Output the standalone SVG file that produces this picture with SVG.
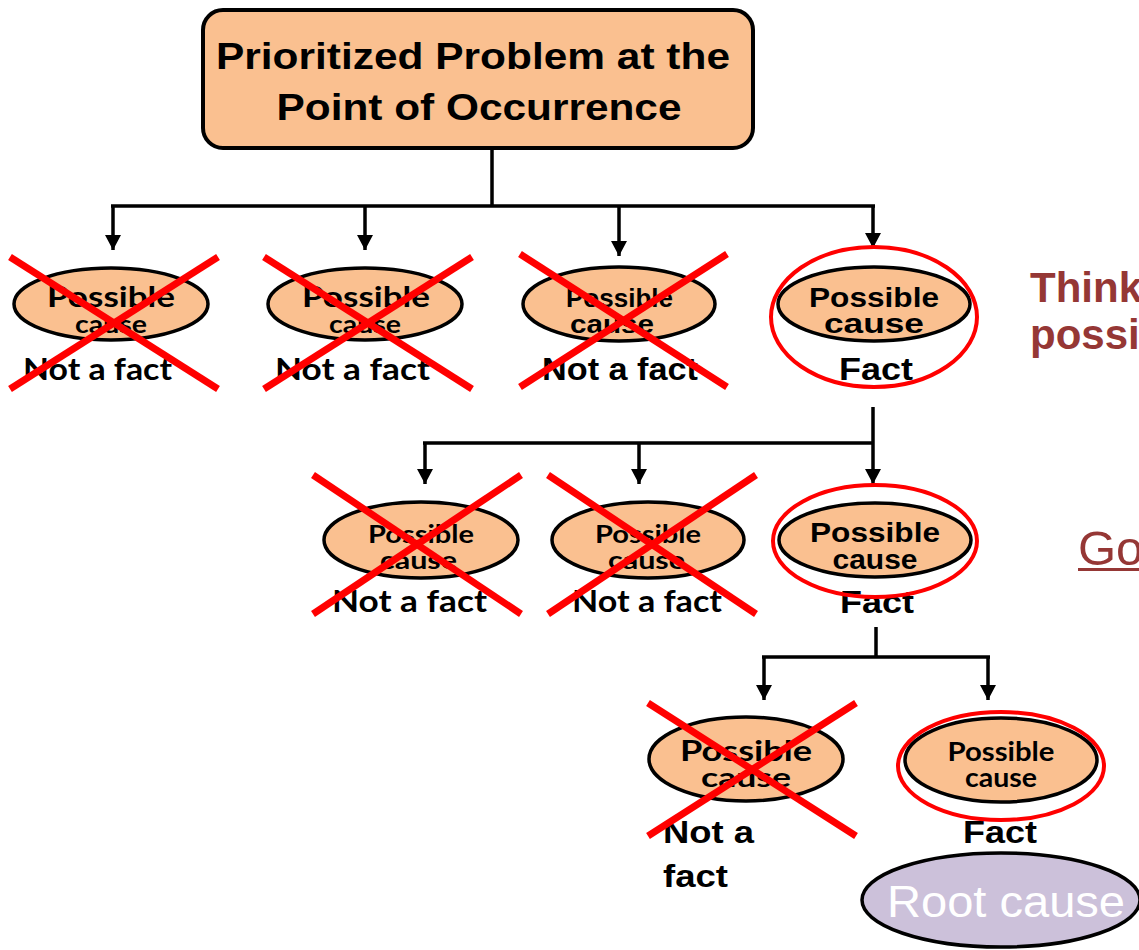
<svg xmlns="http://www.w3.org/2000/svg" width="1139" height="950" viewBox="0 0 1139 950">
  <defs>
    <marker id="arrow" markerUnits="userSpaceOnUse" markerWidth="16" markerHeight="16" refX="15" refY="8" orient="auto">
      <path d="M0,0 L15,8 L0,16 z" fill="#000"/>
    </marker>
    <style>
      .box { fill: #FAC090; stroke: #000; stroke-width: 4; }
      .cause { fill: #FAC090; stroke: #000; stroke-width: 3.5; }
      .ring { fill: none; stroke: #FF0000; stroke-width: 4; }
      .cross { stroke: #FF0000; stroke-width: 7; stroke-linecap: butt; }
      .wire { fill: none; stroke: #000; stroke-width: 3.5; }
      .arr { fill: none; stroke: #000; stroke-width: 3.5; marker-end: url(#arrow); }
      .hdr { font-family: "Liberation Sans", Arial, sans-serif; font-weight: bold; font-size: 37px; fill: #000; text-anchor: middle; }
      .cal { font-family: Lato, "Open Sans", sans-serif; font-weight: bold; fill: #000; }
      .ari { font-family: "Liberation Sans", Arial, sans-serif; font-weight: bold; fill: #000; }
      .note { font-family: "Liberation Sans", Arial, sans-serif; fill: #953735; }
    </style>
  </defs>

  <!-- connectors -->
  <g id="connectors">
    <path class="wire" d="M492,148 V206 M111,206 H875"/>
    <line class="arr" x1="113" y1="206" x2="113" y2="250"/>
    <line class="arr" x1="365" y1="206" x2="365" y2="250"/>
    <line class="arr" x1="619" y1="206" x2="619" y2="256"/>
    <line class="arr" x1="873" y1="206" x2="873" y2="248"/>

    <path class="wire" d="M873,407 V443 M423,443 H873"/>
    <line class="arr" x1="425" y1="443" x2="425" y2="484"/>
    <line class="arr" x1="639" y1="443" x2="639" y2="484"/>
    <line class="arr" x1="873" y1="443" x2="873" y2="484"/>

    <path class="wire" d="M876,627 V657 M762,657 H990"/>
    <line class="arr" x1="764" y1="657" x2="764" y2="700"/>
    <line class="arr" x1="988" y1="657" x2="988" y2="700"/>
  </g>

  <!-- problem box -->
  <g id="problem">
    <rect class="box" x="203" y="10" width="550" height="138" rx="20" ry="20"/>
    <text class="hdr" x="473" y="69" textLength="514" lengthAdjust="spacingAndGlyphs">Prioritized Problem at the</text>
    <text class="hdr" x="479" y="120" textLength="405" lengthAdjust="spacingAndGlyphs">Point of Occurrence</text>
  </g>

  <!-- level 1 -->
  <g id="cause-1-1">
    <ellipse class="cause" cx="111" cy="304" rx="97" ry="36"/>
    <text class="cal" x="47" y="307" font-size="29" textLength="128" lengthAdjust="spacingAndGlyphs">Possible</text>
    <text class="cal" x="75" y="333" font-size="24" textLength="72" lengthAdjust="spacingAndGlyphs">cause</text>
    <text class="cal" x="23" y="380" font-size="31" textLength="149" lengthAdjust="spacingAndGlyphs">Not a fact</text>
    <line class="cross" x1="10" y1="257" x2="218" y2="389"/>
    <line class="cross" x1="10" y1="389" x2="218" y2="257"/>
  </g>
  <g id="cause-1-2">
    <ellipse class="cause" cx="365" cy="304" rx="97" ry="36"/>
    <text class="cal" x="302" y="307" font-size="29" textLength="128" lengthAdjust="spacingAndGlyphs">Possible</text>
    <text class="cal" x="329" y="333" font-size="24" textLength="72" lengthAdjust="spacingAndGlyphs">cause</text>
    <text class="cal" x="275" y="380" font-size="31" textLength="155" lengthAdjust="spacingAndGlyphs">Not a fact</text>
    <line class="cross" x1="264" y1="257" x2="472" y2="389"/>
    <line class="cross" x1="264" y1="389" x2="472" y2="257"/>
  </g>
  <g id="cause-1-3">
    <ellipse class="cause" cx="619" cy="304" rx="96" ry="37"/>
    <text class="ari" x="566" y="307" font-size="26" textLength="107" lengthAdjust="spacingAndGlyphs">Possible</text>
    <text class="ari" x="570" y="333" font-size="26" textLength="84" lengthAdjust="spacingAndGlyphs">cause</text>
    <text class="ari" x="542" y="380" font-size="31" textLength="156" lengthAdjust="spacingAndGlyphs">Not a fact</text>
    <line class="cross" x1="520" y1="254" x2="727" y2="387"/>
    <line class="cross" x1="520" y1="387" x2="727" y2="254"/>
  </g>
  <g id="cause-1-4">
    <ellipse class="cause" cx="874" cy="304" rx="96" ry="37"/>
    <text class="ari" x="874" y="307" font-size="28" text-anchor="middle" textLength="130" lengthAdjust="spacingAndGlyphs">Possible</text>
    <text class="ari" x="874" y="333" font-size="28" text-anchor="middle" textLength="100" lengthAdjust="spacingAndGlyphs">cause</text>
    <text class="ari" x="876" y="380" font-size="32" text-anchor="middle" textLength="74" lengthAdjust="spacingAndGlyphs">Fact</text>
    <ellipse class="ring" cx="874" cy="317" rx="103" ry="70"/>
  </g>

  <!-- level 2 -->
  <g id="cause-2-1">
    <ellipse class="cause" cx="421" cy="540" rx="97" ry="38"/>
    <text class="cal" x="368" y="543" font-size="25" textLength="106" lengthAdjust="spacingAndGlyphs">Possible</text>
    <text class="cal" x="380" y="569" font-size="25" textLength="77" lengthAdjust="spacingAndGlyphs">cause</text>
    <text class="cal" x="332" y="612" font-size="31" textLength="155" lengthAdjust="spacingAndGlyphs">Not a fact</text>
    <line class="cross" x1="313" y1="475" x2="521" y2="614"/>
    <line class="cross" x1="313" y1="614" x2="521" y2="475"/>
  </g>
  <g id="cause-2-2">
    <ellipse class="cause" cx="648" cy="540" rx="96" ry="38"/>
    <text class="cal" x="595" y="543" font-size="25" textLength="106" lengthAdjust="spacingAndGlyphs">Possible</text>
    <text class="cal" x="608" y="569" font-size="25" textLength="77" lengthAdjust="spacingAndGlyphs">cause</text>
    <text class="cal" x="572" y="612" font-size="31" textLength="150" lengthAdjust="spacingAndGlyphs">Not a fact</text>
    <line class="cross" x1="548" y1="475" x2="756" y2="614"/>
    <line class="cross" x1="548" y1="614" x2="756" y2="475"/>
  </g>
  <g id="cause-2-3">
    <ellipse class="cause" cx="875" cy="540" rx="96" ry="37"/>
    <text class="ari" x="875" y="542" font-size="28" text-anchor="middle" textLength="130" lengthAdjust="spacingAndGlyphs">Possible</text>
    <text class="ari" x="875" y="569" font-size="28" text-anchor="middle" textLength="85" lengthAdjust="spacingAndGlyphs">cause</text>
    <text class="ari" x="877" y="613" font-size="32" text-anchor="middle" textLength="74" lengthAdjust="spacingAndGlyphs">Fact</text>
    <ellipse class="ring" cx="875" cy="541" rx="102" ry="56"/>
  </g>

  <!-- level 3 -->
  <g id="cause-3-1">
    <ellipse class="cause" cx="746" cy="759" rx="97" ry="42"/>
    <text class="cal" x="680" y="761" font-size="29" textLength="132" lengthAdjust="spacingAndGlyphs">Possible</text>
    <text class="cal" x="701" y="787" font-size="27" textLength="90" lengthAdjust="spacingAndGlyphs">cause</text>
    <text class="ari" x="663" y="843" font-size="32" textLength="91" lengthAdjust="spacingAndGlyphs">Not a</text>
    <text class="ari" x="663" y="887" font-size="32" textLength="65" lengthAdjust="spacingAndGlyphs">fact</text>
    <line class="cross" x1="648" y1="703" x2="856" y2="836"/>
    <line class="cross" x1="648" y1="836" x2="856" y2="703"/>
  </g>
  <g id="cause-3-2">
    <ellipse class="cause" cx="1001" cy="760" rx="96" ry="42"/>
    <text class="cal" x="1001" y="761" font-size="26" text-anchor="middle" textLength="107" lengthAdjust="spacingAndGlyphs">Possible</text>
    <text class="cal" x="1001" y="787" font-size="26" text-anchor="middle" textLength="72" lengthAdjust="spacingAndGlyphs">cause</text>
    <text class="ari" x="1000" y="843" font-size="32" text-anchor="middle" textLength="74" lengthAdjust="spacingAndGlyphs">Fact</text>
    <ellipse class="ring" cx="1001" cy="766" rx="103" ry="54"/>
  </g>

  <!-- root cause -->
  <g id="root-cause">
    <ellipse cx="1001" cy="900" rx="139" ry="47" fill="#CCC1DA" stroke="#000" stroke-width="3.5"/>
    <text x="887" y="917" font-family="Liberation Sans, Arial, sans-serif" font-size="45" fill="#FFFFFF" textLength="238" lengthAdjust="spacingAndGlyphs">Root cause</text>
  </g>

  <!-- side notes -->
  <g id="note-think">
    <text class="note" x="1030" y="302" font-size="42" font-weight="bold">Think</text>
    <text class="note" x="1030" y="349" font-size="42" font-weight="bold">possi</text>
  </g>
  <g id="note-go">
    <text class="note" x="1078" y="565" font-size="49">Go</text>
    <rect x="1078" y="568" width="61" height="3" fill="#953735"/>
  </g>
</svg>
